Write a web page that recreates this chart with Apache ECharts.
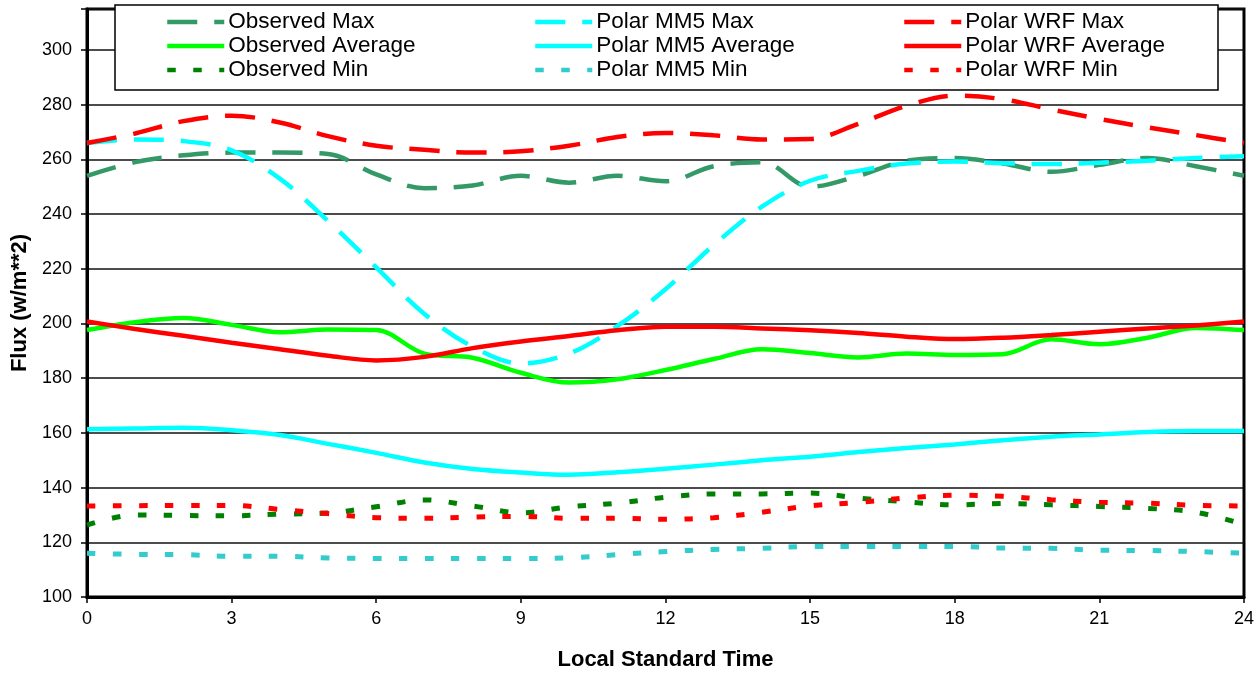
<!DOCTYPE html>
<html>
<head>
<meta charset="utf-8">
<script src="https://cdn.jsdelivr.net/npm/echarts@6/dist/echarts.min.js"></script>
<style>
html,body{margin:0;padding:0;background:#fff;}
#chart{width:1257px;height:677px;}
</style>
</head>
<body>
<div id="chart"></div>
<script>
// Hours of day (Local Standard Time)
const hours = [0,1,2,3,4,5,6,7,8,9,10,11,12,13,14,15,16,17,18,19,20,21,22,23,24];

const observedMax = [254,259,261.5,262.5,262.5,262,254.5,249.5,250.5,254,251.5,254,252,257.5,259,250,254,259.5,260.5,258.5,255.5,258,260.5,257.5,254];
const observedAvg = [197.6,200.5,202,199.5,196.8,197.8,197.6,189,187.5,182,178.4,179.6,183,187,190.6,189.2,187.6,189,188.5,188.8,194.2,192.4,194.8,198.4,197.6];
const observedMin = [126.3,130,129.8,129.7,130.3,130.7,133,135.5,133.3,130.8,133,134.3,136.5,137.7,137.7,138,136.2,134.8,133.7,134.2,133.7,133.1,132.4,131,126.5];

const mm5Max = [266,267.3,266.7,263.3,253,237.5,220.5,203.5,191.5,185.4,189,199,212.5,228.7,242.7,252.2,255.8,258.5,259.2,258.6,258.3,258.8,259.5,260.5,261.2];
const mm5Avg = [161.3,161.6,161.9,161,159.2,156,152.7,149.2,146.8,145.5,144.7,145.6,146.9,148.4,150,151.3,153,154.5,155.8,157.3,158.6,159.4,160.3,160.7,160.7];
const mm5Min = [116,115.6,115.5,114.9,114.9,114.3,114.1,114.1,114.1,114.1,114.3,115.5,116.6,117.4,117.8,118.5,118.5,118.5,118.5,117.9,117.8,117.1,117,116.6,116];

const wrfMax = [266,269.5,274,276,273.5,268.5,265,263.5,262.5,263,265,268.2,269.7,268.8,267.3,267.5,273,279.6,283.3,282,278.3,274.8,271.7,268.9,266];
const wrfAvg = [200.7,198,195.5,193,190.6,188.2,186.5,187.8,191,193.4,195.4,197.5,198.8,198.8,198.2,197.5,196.5,195.2,194.3,194.8,195.8,197,198.2,199.3,200.7];
const wrfMin = [133.3,133.4,133.5,133.5,132,130.5,129,128.8,129.2,129.5,128.8,128.8,128.4,129,131,133.3,134.6,136.2,137.2,136.8,135.6,134.6,134.3,133.5,133.3];

const yTicks = [100,120,140,160,180,200,220,240,260,280,300];
const xTicks = [0,3,6,9,12,15,18,21,24];

const FONT = 'Liberation Sans, Arial, sans-serif';
const LONG_DASH = [30,17];
const DOT = [8.5,17.5];

function pairs(arr){ return hours.map((h,i)=>[h,arr[i]]); }
function mk(name, arr, color, type){
  return {
    name, type:'line', data:pairs(arr), smooth:0.35, symbol:'none',
    lineStyle:{color, width: type===DOT?5:4.5, type},
    itemStyle:{color},
    emphasis:{disabled:true}, silent:true, z:2
  };
}

const series = [
  mk('Observed Max', observedMax, '#339966', LONG_DASH),
  mk('Observed Average', observedAvg, '#00FF00', 'solid'),
  mk('Observed Min', observedMin, '#008000', DOT),
  mk('Polar MM5 Max', mm5Max, '#00FFFF', LONG_DASH),
  mk('Polar MM5 Average', mm5Avg, '#00FFFF', 'solid'),
  mk('Polar MM5 Min', mm5Min, '#33CCCC', DOT),
  mk('Polar WRF Max', wrfMax, '#FF0000', LONG_DASH),
  mk('Polar WRF Average', wrfAvg, '#FF0000', 'solid'),
  mk('Polar WRF Min', wrfMin, '#FF0000', DOT)
];

function legendCol(names, left){
  return {
    data:names, orient:'vertical', left, top:10, padding:0,
    itemWidth:57, itemHeight:14, itemGap:0, selectedMode:false,
    itemStyle:{opacity:0},
    lineStyle:{width:4.5},
    textStyle:{fontFamily:FONT, fontSize:22.5, color:'#000', lineHeight:24, padding:[0,0,0,-1]},
    z:20
  };
}

const chart = echarts.init(document.getElementById('chart'), null, {renderer:'canvas'});
chart.setOption({
  animation:false,
  backgroundColor:'#fff',
  grid:{left:87, right:12, top:9, bottom:80, show:true, borderColor:'#000', borderWidth:3, containLabel:false},
  xAxis:{
    type:'value', min:0, max:24, interval:3,
    name:'Local Standard Time', nameLocation:'middle', nameGap:52,
    nameTextStyle:{fontFamily:FONT, fontSize:22, fontWeight:'bold', color:'#000'},
    axisLine:{show:true, onZero:false, lineStyle:{color:'#000', width:3}},
    axisTick:{show:true, length:6, lineStyle:{color:'#000', width:1.5}},
    axisLabel:{fontFamily:FONT, fontSize:18, color:'#000', margin:13,
      formatter:v=> xTicks.includes(v)? String(v):''},
    splitLine:{show:false}
  },
  yAxis:{
    type:'value', min:100, max:315, interval:20,
    name:'Flux (w/m**2)', nameLocation:'middle', nameGap:52, nameRotate:90,
    nameTextStyle:{fontFamily:FONT, fontSize:22, fontWeight:'bold', color:'#000'},
    axisLine:{show:true, onZero:false, lineStyle:{color:'#000', width:3}},
    axisTick:{show:true, length:6, lineStyle:{color:'#000', width:1.5}},
    axisLabel:{fontFamily:FONT, fontSize:18, color:'#000', margin:15,
      formatter:v=> yTicks.includes(v)? String(v):''},
    splitLine:{show:true, lineStyle:{color:'#111', width:1.5}}
  },
  graphic:[{
    type:'rect', z:10, silent:true,
    shape:{x:115, y:5, width:1103, height:85},
    style:{fill:'#fff', stroke:'#000', lineWidth:1.5}
  }],
  legend:[
    legendCol(['Observed Max','Observed Average','Observed Min'], 165),
    legendCol(['Polar MM5 Max','Polar MM5 Average','Polar MM5 Min'], 533),
    legendCol(['Polar WRF Max','Polar WRF Average','Polar WRF Min'], 902)
  ],
  series
});
</script>
</body>
</html>
